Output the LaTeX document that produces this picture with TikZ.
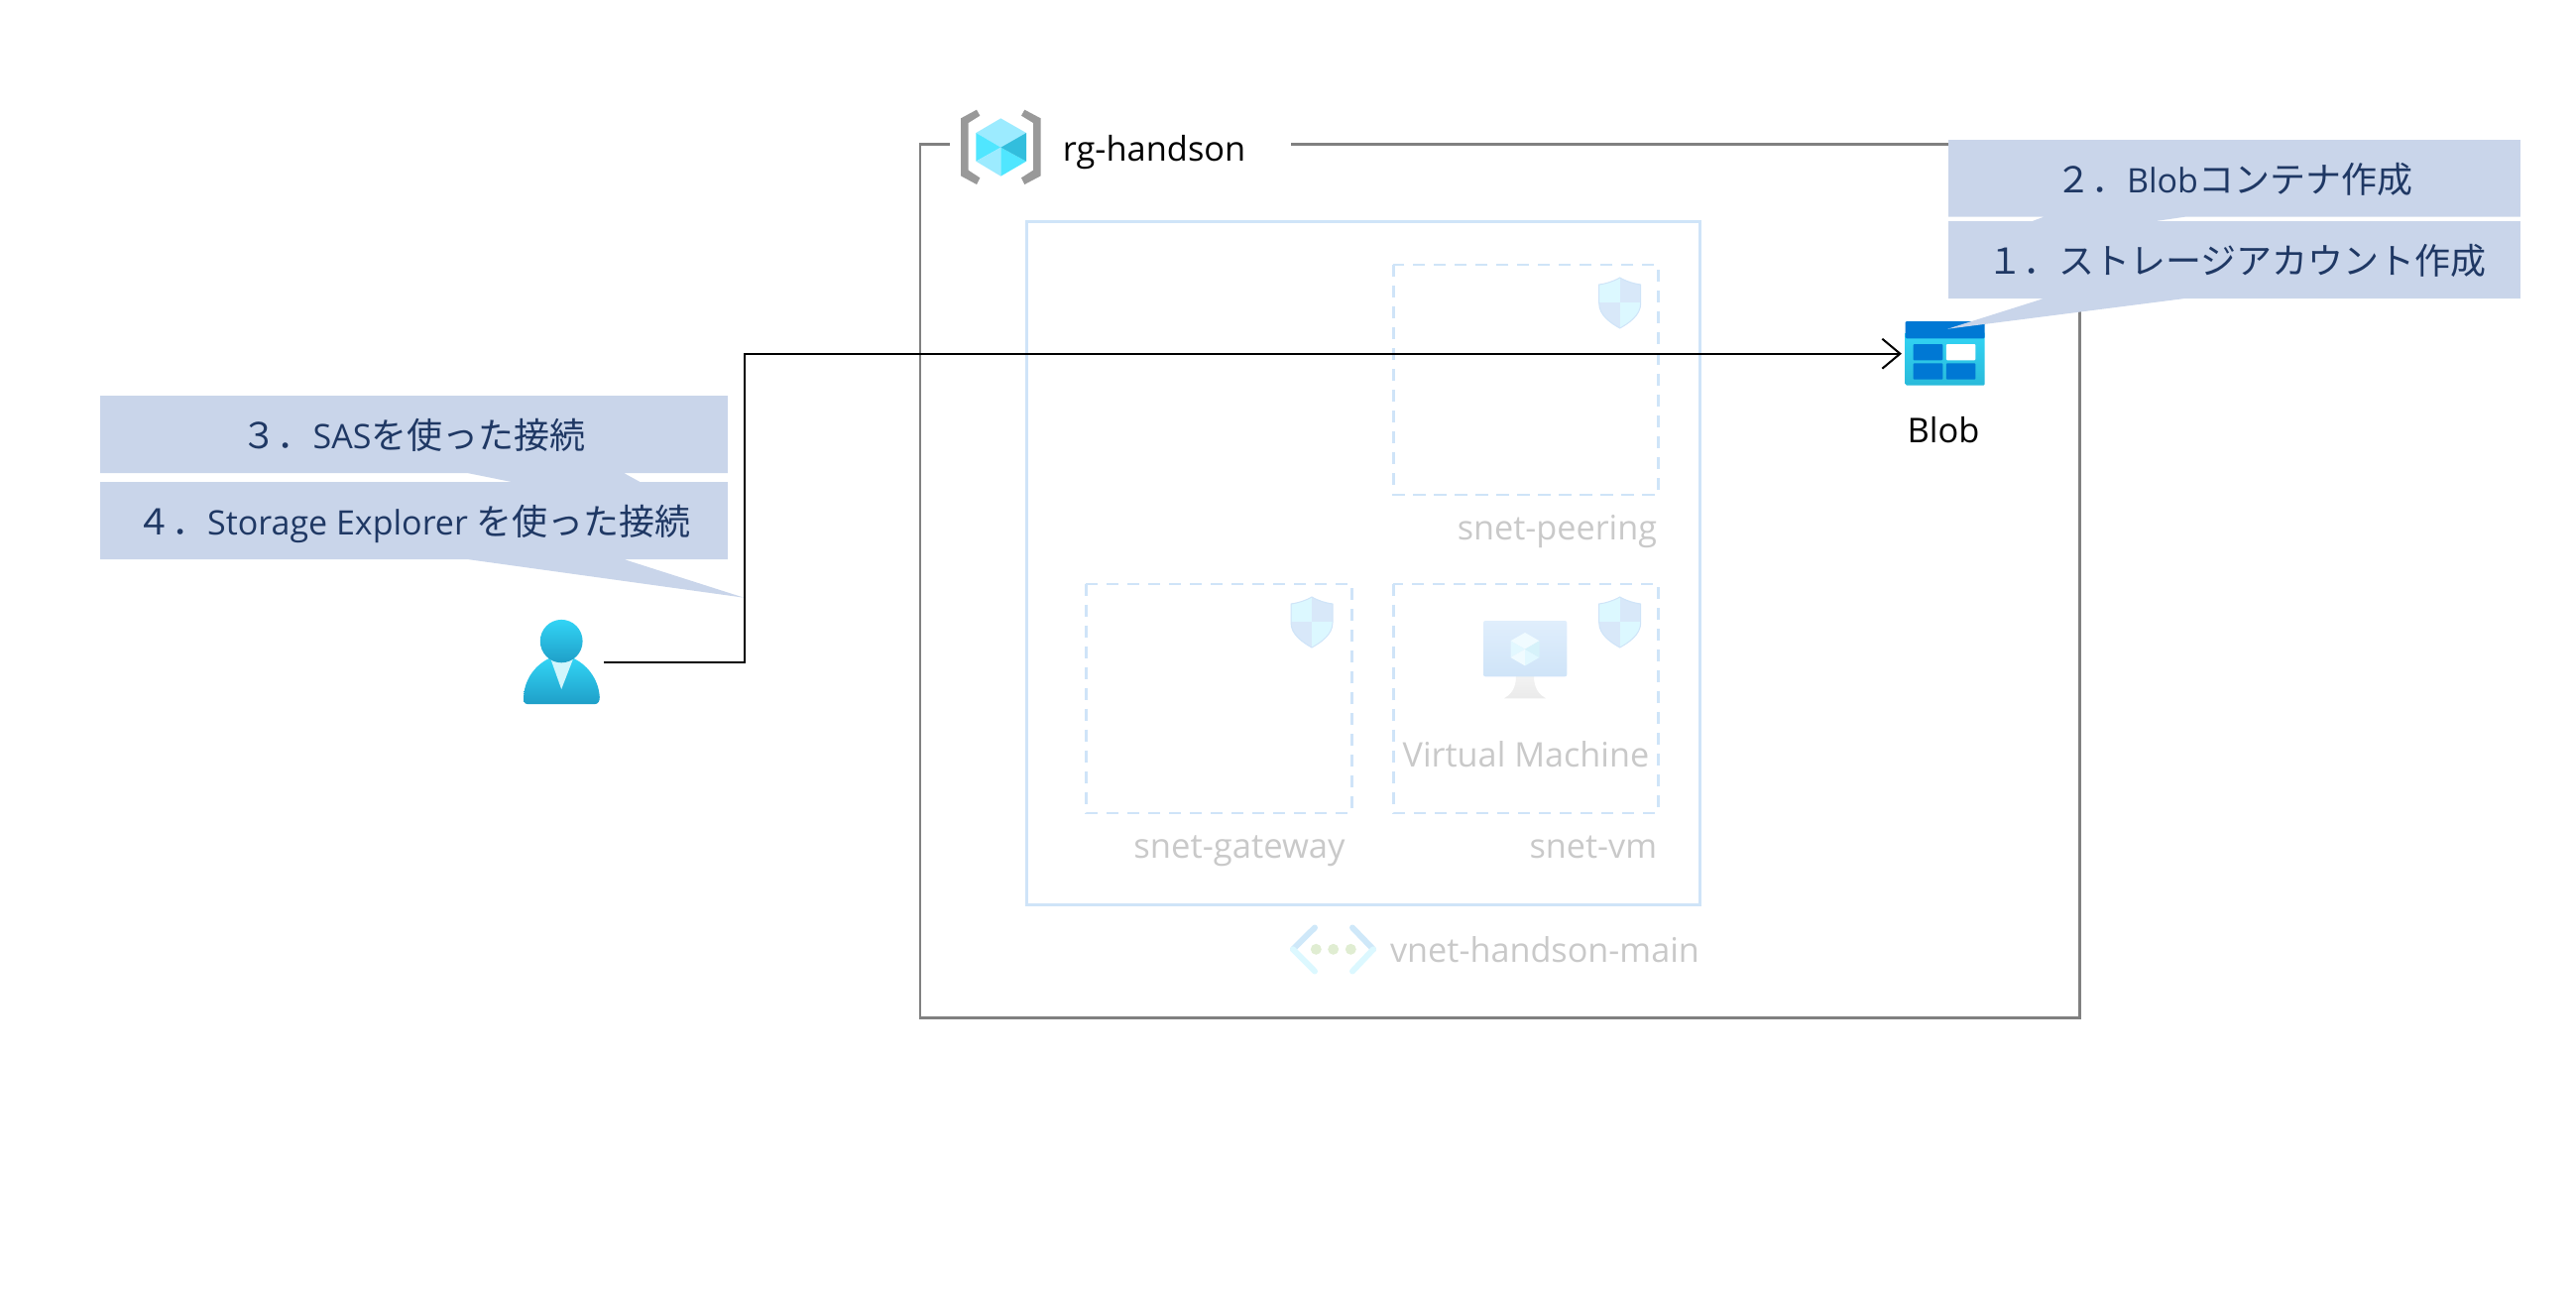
\documentclass[tikz,border=0pt]{standalone}
\usepackage{fontspec}
\setmainfont{Open Sans}
\newfontfamily\cjk{Noto Sans CJK JP}
\newcommand{\jp}[1]{{\cjk\fontsize{18}{20}\selectfont #1}}
\usetikzlibrary{arrows.meta}
\definecolor{framegray}{HTML}{808080}
\definecolor{netblue}{HTML}{CFE4F8}
\definecolor{fadetext}{HTML}{C9C9C9}
\definecolor{callfill}{HTML}{C9D5EA}
\definecolor{calltext}{HTML}{1F3864}
\definecolor{azcyan}{HTML}{32D4F5}
\definecolor{azdeep}{HTML}{1F9FC8}
\definecolor{azblue}{HTML}{0078D4}
\definecolor{shielda}{HTML}{DCF8FF}
\definecolor{shieldb}{HTML}{D8E8F9}
\tikzset{
  framebox/.style={draw=framegray,line width=1.35pt},
  vnetbox/.style={draw=netblue,line width=1.35pt},
  subnetbox/.style={draw=netblue,line width=1.2pt,dash pattern=on 6.2pt off 4.3pt},
  calloutshape/.style={fill=callfill},
  calltxt/.style={inner sep=0pt,text=calltext,font=\fontsize{17}{20}\selectfont},
  lblblack/.style={inner sep=0pt,text=black,font=\fontsize{17.2}{20}\selectfont},
  lblfade/.style={inner sep=0pt,text=fadetext,font=\fontsize{17.1}{20}\selectfont},
  lblfadewide/.style={inner sep=0pt,text=fadetext,font=\fontsize{17.3}{20}\selectfont},
  conn/.style={draw=black,line width=1pt,-{Straight Barb[length=9pt,width=15pt]}},
  anchorbox/.style={inner sep=0pt,minimum width=#1,minimum height=32pt},
  shieldicon/.pic={
    \begin{scope}
      \clip (21,0) .. controls (14,4) and (7,6) .. (0,7) -- (0,26) .. controls (0,38) and (12,46) .. (21,51) .. controls (30,46) and (42,38) .. (42,26) -- (42,7) .. controls (35,6) and (28,4) .. (21,0) -- cycle;
      \fill[fill=shielda] (0,0) rectangle (21,25);
      \fill[fill=shieldb] (21,0) rectangle (42,25);
      \fill[fill=shieldb] (0,25) rectangle (21,51);
      \fill[fill=shielda] (21,25) rectangle (42,51);
    \end{scope}
    \draw[draw=netblue,line width=0.5pt] (21,0) .. controls (14,4) and (7,6) .. (0,7) -- (0,26) .. controls (0,38) and (12,46) .. (21,51) .. controls (30,46) and (42,38) .. (42,26) -- (42,7) .. controls (35,6) and (28,4) .. (21,0) -- cycle;
  },
}
\begin{document}
\begin{tikzpicture}[x=0.5pt,y=-0.5pt]
\useasboundingbox (0,0) rectangle (2598,1308);
% resource group frame
\draw[framebox] (957.7,145.6) -- (928,145.6) -- (928,1026.7) -- (2097.3,1026.7) -- (2097.3,145.6) -- (1302,145.6);
% resource group icon
\begin{scope}[shift={(900,90)},x=0.16667pt,y=-0.16667pt]
  \fill[fill=black!40] (255,62) -- (265,80) -- (230,102) -- (230,245) -- (265,268) -- (255,288) -- (207,262) -- (207,88) -- cycle;
  \fill[fill=black!40] (400,62) -- (390,80) -- (426,102) -- (426,245) -- (390,268) -- (400,288) -- (449,262) -- (449,88) -- cycle;
  \fill[fill={rgb,255:red,156;green,235;blue,255}] (328,88) -- (405,132) -- (328,176) -- (253,132) -- cycle;
  \fill[fill={rgb,255:red,80;green,230;blue,255}] (253,132) -- (328,176) -- (253,218) -- cycle;
  \fill[fill={rgb,255:red,156;green,235;blue,255}] (253,218) -- (328,176) -- (328,263) -- cycle;
  \fill[fill={rgb,255:red,80;green,230;blue,255}] (328,176) -- (405,218) -- (328,263) -- cycle;
  \fill[fill={rgb,255:red,50;green,190;blue,221}] (405,132) -- (405,218) -- (328,176) -- cycle;
\end{scope}
\node[lblblack,anchor=base west] (rglabel) at (1071.5,162.7) {rg-handson};
% vnet
\draw[vnetbox] (1035.7,223.3) rectangle (1714.3,912.3);
\draw[subnetbox] (1405.3,267) rectangle (1672.3,499);
\draw[subnetbox] (1095.3,588.7) rectangle (1363.3,820);
\draw[subnetbox] (1405.3,588.7) rectangle (1672.3,820);
\pic at (1612.7,280) {shieldicon};
\pic at (1302,602) {shieldicon};
\pic at (1612.7,602) {shieldicon};
\node[lblfade,anchor=base east] (peerlabel) at (1671.5,544) {snet-peering};
\node[lblfadewide,anchor=base east] (gatelabel) at (1357,865) {snet-gateway};
\node[lblfade,anchor=base east] (vmsublabel) at (1671.5,865) {snet-vm};
\node[lblfade,anchor=base west] (vmlabel) at (1414.3,773.3) {Virtual Machine};
\node[lblfade,anchor=base west] (vnetlabel) at (1401.7,970.7) {vnet-handson-main};
% vm icon
\shade[top color=black!5,bottom color=black!8] (1529,682) -- (1547,682) .. controls (1547,695) and (1553,701) .. (1559,704.3) -- (1517,704.3) .. controls (1523,701) and (1529,695) .. (1529,682) -- cycle;
\shade[top color={rgb,255:red,224;green,238;blue,252},bottom color={rgb,255:red,207;green,228;blue,248},rounded corners=1pt] (1496,626) rectangle (1580.3,682.3);
\fill[fill={rgb,255:red,240;green,251;blue,255}] (1538,638) -- (1552.5,646.3) -- (1538,654.7) -- (1523.5,646.3) -- cycle;
\fill[fill={rgb,255:red,226;green,248;blue,255}] (1523.5,646.3) -- (1538,654.7) -- (1523.5,663) -- cycle;
\fill[fill={rgb,255:red,240;green,251;blue,255}] (1523.5,663) -- (1538,654.7) -- (1538,671.4) -- cycle;
\fill[fill={rgb,255:red,226;green,248;blue,255}] (1538,654.7) -- (1552.5,663) -- (1538,671.4) -- cycle;
\fill[fill={rgb,255:red,214;green,242;blue,250}] (1552.5,646.3) -- (1552.5,663) -- (1538,654.7) -- cycle;
% vnet icon
\draw[draw={rgb,255:red,207;green,232;blue,249},line width=3pt,line cap=round] (1326,935.5) -- (1304,957.3);
\draw[draw={rgb,255:red,220;green,248;blue,255},line width=3pt,line cap=round] (1304,957.3) -- (1326,979.5);
\draw[draw={rgb,255:red,207;green,232;blue,249},line width=3pt,line cap=round] (1364,935.5) -- (1385,957.3);
\draw[draw={rgb,255:red,220;green,248;blue,255},line width=3pt,line cap=round] (1385,957.3) -- (1364,979.5);
\fill[fill={rgb,255:red,224;green,237;blue,210}] (1327.3,957.3) circle[radius=5.5];
\fill[fill={rgb,255:red,224;green,237;blue,210}] (1344.7,957.3) circle[radius=5.5];
\fill[fill={rgb,255:red,224;green,237;blue,210}] (1362.3,957.3) circle[radius=5.5];
% blob icon
\node[anchorbox=43.7pt] (blob) at (1962,356.7) {};
\shade[top color=azcyan,bottom color={rgb,255:red,41;green,186;blue,218},rounded corners=0.6pt] (1921.7,335) rectangle (2001.7,388.5);
\fill[fill=azblue,rounded corners=0.6pt] (1921.7,324) rectangle (2001.7,341.3);
\fill[fill=azblue,rounded corners=0.5pt] (1929.5,347) rectangle (1959.4,363.3);
\fill[fill=white,rounded corners=0.5pt] (1962.9,347) rectangle (1992.4,363.3);
\fill[fill=azblue,rounded corners=0.5pt] (1929.5,366.3) rectangle (1959.4,382.7);
\fill[fill=azblue,rounded corners=0.5pt] (1962.9,366.3) rectangle (1992.4,382.7);
\node[lblblack,anchor=base] (bloblabel) at (1960,446) {Blob};
% user icon
\node[anchorbox=42.7pt] (user) at (566.2,668) {};
\shade[top color=azcyan,bottom color=azdeep] (531.7,710) .. controls (528.7,710) and (528.1,707) .. (528.1,703) .. controls (528.7,687) and (537.7,672) .. (553.7,664) -- (578.7,664) .. controls (594.7,672) and (603.8,687) .. (604.8,703) .. controls (604.8,707) and (603.3,710) .. (600.3,710) -- cycle;
\fill[fill={rgb,255:red,210;green,245;blue,252}] (555.2,664) -- (578.2,664) -- (566.2,695) -- cycle;
\shade[top color=azcyan,bottom color=azdeep] (566.2,646.6) ellipse[x radius=21.4,y radius=21.7];
% callouts right
\fill[calloutshape] (1965,141) -- (2541.8,141) -- (2541.8,218.7) -- (2203.6,218.7) -- (1968,253) -- (2061.3,218.7) -- (1965,218.7) -- cycle;
\node[calltxt,anchor=base] (c2) at (2253,194.7) {\jp{２．}Blob\jp{コンテナ作成}};
\fill[calloutshape] (1965,223) -- (2541.8,223) -- (2541.8,301) -- (2203.6,301) -- (1964.2,331.7) -- (2061.3,301) -- (1965,301) -- cycle;
\node[calltxt,anchor=base] (c1) at (2256.3,276.5) {\jp{１．ストレージアカウント作成}};
% callouts left
\fill[calloutshape] (101.1,399) -- (733.8,399) -- (733.8,477) -- (629.1,477) -- (720,527) -- (471.2,477) -- (101.1,477) -- cycle;
\node[calltxt,anchor=base] (c3) at (417,452.2) {\jp{３．}SAS\jp{を使った接続}};
\fill[calloutshape] (101.1,486) -- (733.8,486) -- (733.8,564) -- (629.1,564) -- (750.3,602.7) -- (471.2,564) -- (101.1,564) -- cycle;
\node[calltxt,anchor=base] (c4) at (417,539.5) {\jp{４．}Storage Explorer \jp{を使った接続}};
% connector
\coordinate (turn) at (751.3,512);
\draw[conn] (user.east) -| (turn) |- (blob.west);
\end{tikzpicture}
\end{document}
